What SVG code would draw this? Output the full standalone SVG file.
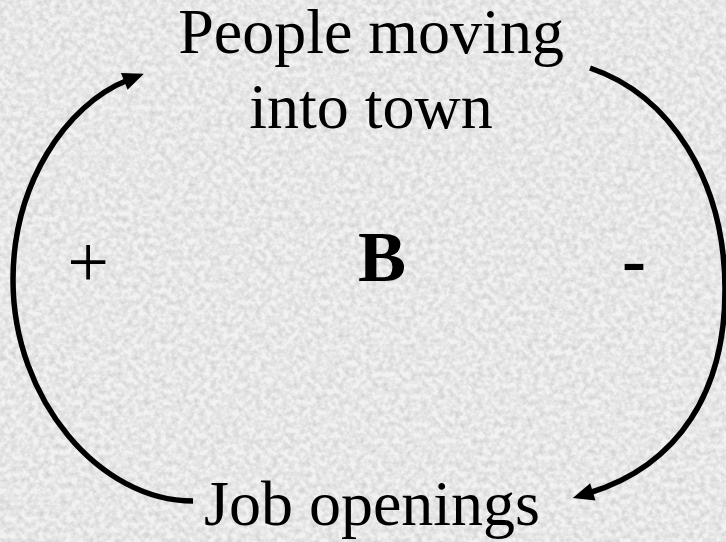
<svg xmlns="http://www.w3.org/2000/svg" width="726" height="542" viewBox="0 0 726 542">
  <style>
    .lbl { font-family: "Liberation Serif", "Times New Roman", serif; fill: #000; text-anchor: middle; }
    .node { font-size: 64px; }
    .sign { font-size: 74px; }
    .bold { font-weight: bold; font-size: 72px; }
    .arc { fill: none; stroke: #000; stroke-width: 5.5; }
  </style>
  <defs>
    <filter id="grain" x="0" y="0" width="100%" height="100%" filterUnits="userSpaceOnUse">
      <feTurbulence type="fractalNoise" baseFrequency="0.18" numOctaves="3" seed="7"/>
      <feColorMatrix type="matrix" values="0 0 0 0 0  0 0 0 0 0  0 0 0 0 0  0.7 0 0 0 -0.22"/>
    </filter>
    <marker id="arrow" markerUnits="userSpaceOnUse" markerWidth="40" markerHeight="40" viewBox="-10 -20 40 40" refX="0" refY="0" orient="auto">
      <path d="M-4,-9 L17,0 L-4,9 Z" fill="#000"/>
    </marker>
  </defs>
  <rect x="0" y="0" width="726" height="542" fill="#f2f2f2"/>
  <rect x="0" y="0" width="726" height="542" fill="#000" filter="url(#grain)" opacity="0.35"/>

  <g id="connectors">
    <path id="edge-jobs-people" class="arc" d="M193,501 C100,501 13,400 13,280 C13,185 65,105 128,80" marker-end="url(#arrow)"/>
    <path id="edge-people-jobs" class="arc" d="M590,68 C670,95 725,180 725,290 C725,390 680,465 589,493" marker-end="url(#arrow)"/>
  </g>

  <g id="node-people">
    <text class="lbl node" x="371" y="53">People moving</text>
    <text class="lbl node" x="371" y="128">into town</text>
  </g>
  <g id="node-jobs">
    <text class="lbl node" x="372" y="525">Job openings</text>
  </g>
  <g id="loop-label">
    <text class="lbl bold" x="382" y="281">B</text>
  </g>
  <g id="polarity-plus">
    <text class="lbl sign" x="88" y="287">+</text>
  </g>
  <g id="polarity-minus">
    <text class="lbl bold" x="634" y="284">-</text>
  </g>
</svg>
